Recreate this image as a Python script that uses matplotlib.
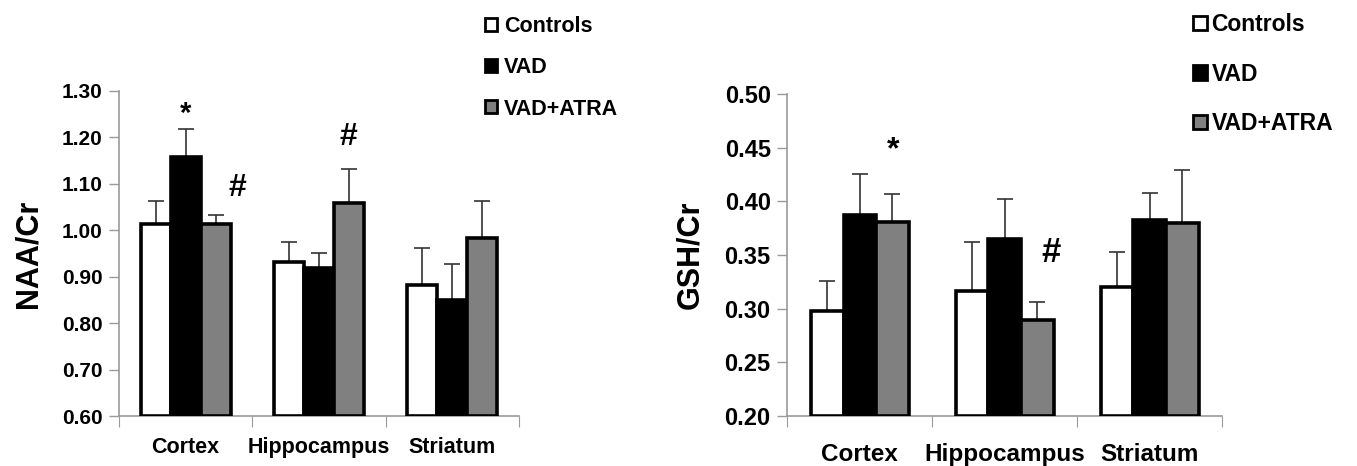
import numpy as np
import matplotlib
matplotlib.use("Agg")
from matplotlib import pyplot as plt
from matplotlib.patches import Patch

regions = ["Cortex", "Hippocampus", "Striatum"]
groups = ["Controls", "VAD", "VAD+ATRA"]

# NAA/Cr (left panel)
naa_controls = [1.013, 0.932, 0.883]
naa_vad = [1.158, 0.919, 0.850]
naa_atra = [1.013, 1.058, 0.983]
naa_controls_err = [0.051, 0.043, 0.079]
naa_vad_err = [0.060, 0.033, 0.078]
naa_atra_err = [0.020, 0.073, 0.079]

# GSH/Cr (right panel)
gsh_controls = [0.298, 0.317, 0.320]
gsh_vad = [0.387, 0.365, 0.383]
gsh_atra = [0.381, 0.290, 0.380]
gsh_controls_err = [0.028, 0.045, 0.033]
gsh_vad_err = [0.039, 0.037, 0.025]
gsh_atra_err = [0.026, 0.016, 0.049]

naa_ticks = [0.60, 0.70, 0.80, 0.90, 1.00, 1.10, 1.20, 1.30]
gsh_ticks = [0.20, 0.25, 0.30, 0.35, 0.40, 0.45, 0.50]

colors = ["white", "black", "#808080"]
axis_gray = "#9a9a9a"
bw = 0.225

plt.rcParams['font.family'] = ['Liberation Sans', 'DejaVu Sans']
fig = plt.figure(figsize=(13.57, 4.66), dpi=100)


def draw_panel(ax, series, errs, ticks, ylabel, fs, xfs, yfs, lpad, xpad):
    ymin, ymax = ticks[0], ticks[-1]
    x = np.arange(len(regions)) + 0.5
    for i, (vals, err) in enumerate(zip(series, errs)):
        xi = x + (i - 1) * bw
        vals = np.array(vals)
        ax.bar(xi, vals - ymin, bottom=ymin, width=bw, color=colors[i],
               edgecolor="black", linewidth=2.6, zorder=3)
        ax.errorbar(xi, vals, yerr=[np.zeros(len(vals)), err], fmt="none",
                    ecolor="#333333", elinewidth=1.2, capsize=6, capthick=1.2,
                    zorder=2)
    ax.set_xlim(0, 3)
    ax.set_ylim(ymin, ymax)
    ax.set_yticks(ticks)
    ax.set_yticklabels(["%.2f" % t for t in ticks], fontsize=fs, fontweight="bold")
    ax.set_xticks([0, 1, 2, 3])
    ax.set_xticklabels([])
    ax.set_xticks(x, minor=True)
    ax.set_xticklabels(regions, minor=True, fontsize=xfs, fontweight="bold")
    ax.tick_params(axis="x", which="minor", length=0, pad=xpad)
    ax.tick_params(axis="x", which="major", length=8, color=axis_gray, direction="out")
    ax.tick_params(axis="y", length=7, color=axis_gray, width=1, pad=5)
    for s in ["top", "right"]:
        ax.spines[s].set_visible(False)
    for s in ["left", "bottom"]:
        ax.spines[s].set_color(axis_gray)
        ax.spines[s].set_linewidth(1.2)
    ax.set_ylabel(ylabel, fontsize=yfs, fontweight="bold", labelpad=lpad)


ax1 = fig.add_axes([0.0877, 0.107, 0.2948, 0.698])
draw_panel(ax1, [naa_controls, naa_vad, naa_atra],
           [naa_controls_err, naa_vad_err, naa_atra_err],
           naa_ticks, "NAA/Cr", 15, 15.5, 22, 13, 15)
ax1.text(0.5, 1.25, "*", ha="center", va="center", fontsize=21, fontweight="bold")
ax1.text(0.89, 1.09, "#", ha="center", va="center", fontsize=23, fontweight="bold")
ax1.text(1.72, 1.20, "#", ha="center", va="center", fontsize=23, fontweight="bold")

ax2 = fig.add_axes([0.5802, 0.107, 0.3205, 0.691])
draw_panel(ax2, [gsh_controls, gsh_vad, gsh_atra],
           [gsh_controls_err, gsh_vad_err, gsh_atra_err],
           gsh_ticks, "GSH/Cr", 17, 17.5, 22, 14, 19)
ax2.text(0.73, 0.448, "*", ha="center", va="center", fontsize=23, fontweight="bold")
ax2.text(1.82, 0.352, "#", ha="center", va="center", fontsize=25, fontweight="bold")

handles = [Patch(facecolor=c, edgecolor="black", linewidth=2) for c in colors]
fig.legend(handles, groups, loc="upper left", bbox_to_anchor=(0.343, 1.008),
           frameon=False, handlelength=0.55, handleheight=0.55, handletextpad=0.35,
           labelspacing=0.95, prop={"size": 15.5, "weight": "bold"})
fig.legend(handles, groups, loc="upper left", bbox_to_anchor=(0.864, 1.016),
           frameon=False, handlelength=0.6, handleheight=0.6, handletextpad=0.2,
           labelspacing=1.15, prop={"size": 16.5, "weight": "bold"})

fig.savefig("out.png", dpi=100)
